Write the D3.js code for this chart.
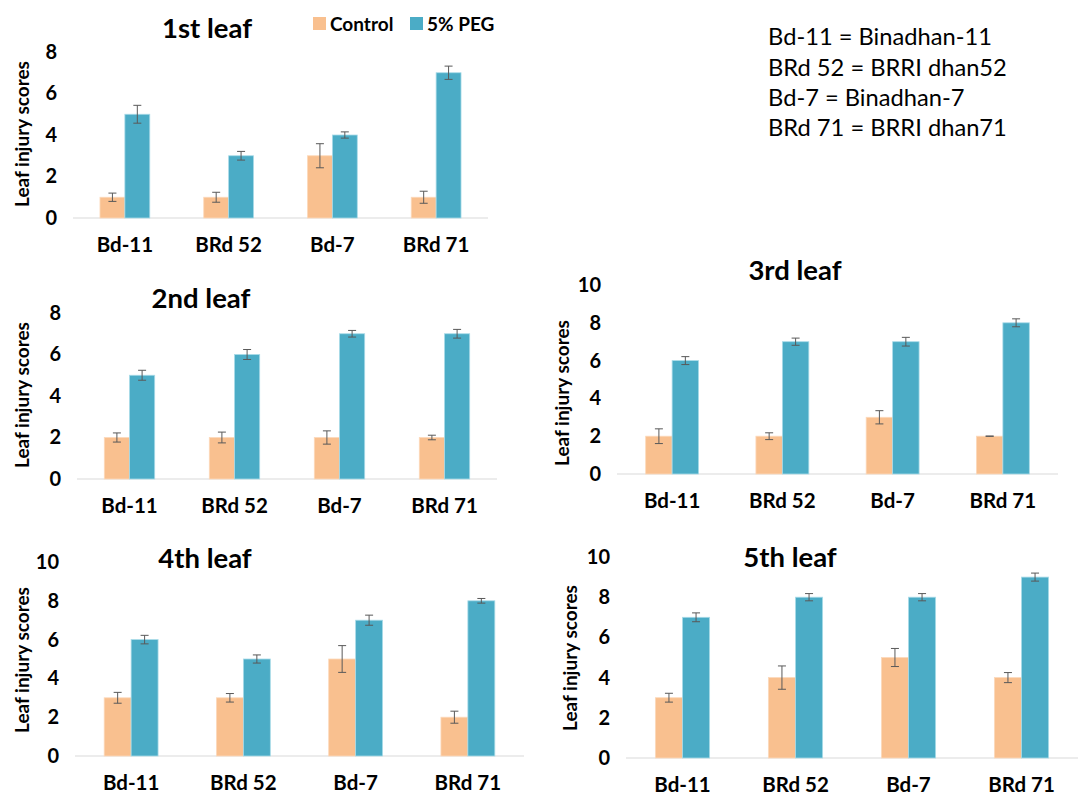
<!DOCTYPE html>
<html>
<head>
<meta charset="utf-8">
<script src="https://cdn.jsdelivr.net/npm/d3@7"></script>
<style>
  body { margin: 0; background: #fff; }
  svg text { font-family: Lato, "Open Sans", sans-serif; fill: #000; }
  .tick text { font-weight: bold; font-size: 20px; }
  .x-axis .tick text { font-size: 20.5px; }
  .panel-title { font-weight: bold; font-size: 27.5px; }
  .axis-label { font-weight: bold; font-size: 19px; }
  .legend-text { font-weight: bold; font-size: 19px; }
  .note { font-size: 23.7px; }
</style>
</head>
<body>
<div id="chart"></div>
<script>
const categories = ["Bd-11", "BRd 52", "Bd-7", "BRd 71"];
const seriesNames = ["Control", "5% PEG"];
const leafTitles = ["1st leaf", "2nd leaf", "3rd leaf", "4th leaf", "5th leaf"];
const yMaxes = [8, 8, 10, 10, 10];

const controlMeans = [
  [1, 1, 3, 1],
  [2, 2, 2, 2],
  [2, 2, 3, 2],
  [3, 3, 5, 2],
  [3, 4, 5, 4]
];
const controlErrors = [
  [0.2, 0.24, 0.58, 0.29],
  [0.22, 0.26, 0.32, 0.11],
  [0.39, 0.18, 0.35, 0.01],
  [0.28, 0.22, 0.69, 0.31],
  [0.22, 0.58, 0.45, 0.25]
];
const pegMeans = [
  [5, 3, 4, 7],
  [5, 6, 7, 7],
  [6, 7, 7, 8],
  [6, 5, 7, 8],
  [7, 8, 8, 9]
];
const pegErrors = [
  [0.43, 0.21, 0.15, 0.32],
  [0.24, 0.24, 0.16, 0.21],
  [0.21, 0.19, 0.23, 0.21],
  [0.22, 0.21, 0.26, 0.12],
  [0.22, 0.18, 0.18, 0.2]
];

const varietyNotes = [
  "Bd-11 = Binadhan-11",
  "BRd 52 = BRRI dhan52",
  "Bd-7 = Binadhan-7",
  "BRd 71 = BRRI dhan71"
];

const colors = { "Control": "#F9C08F", "5% PEG": "#4BACC6" };
const strokes = { "Control": "#fcd9bb", "5% PEG": "#a9dbe8" };

// plot boxes for each panel (left, right, top = y at max, bottom = baseline)
const panels = [
  { left: 73, right: 488, top: 52, bottom: 218, titleX: 207, titleY: 28, labelX: 22, labelY: 134 },
  { left: 77, right: 497, top: 313, bottom: 479, titleX: 201, titleY: 298, labelX: 22, labelY: 395 },
  { left: 617, right: 1058, top: 285, bottom: 474, titleX: 795, titleY: 270, labelX: 562, labelY: 393 },
  { left: 75, right: 524, top: 562, bottom: 756, titleX: 205, titleY: 558, labelX: 22, labelY: 660 },
  { left: 626, right: 1078, top: 557, bottom: 758, titleX: 790, titleY: 557, labelX: 570, labelY: 658 }
];

const width = 1085, height = 797;
const svg = d3.select("#chart").append("svg")
  .attr("width", width)
  .attr("height", height);

panels.forEach((p, i) => {
  const rows = categories.map((c, j) => ({
    category: c,
    values: [
      { series: seriesNames[0], value: controlMeans[i][j], err: controlErrors[i][j] },
      { series: seriesNames[1], value: pegMeans[i][j], err: pegErrors[i][j] }
    ]
  }));

  const x = d3.scaleBand()
    .domain(categories)
    .range([p.left, p.right])
    .paddingInner(0.52)
    .paddingOuter(0.26);

  const xSub = d3.scaleBand()
    .domain(seriesNames)
    .range([0, x.bandwidth()]);

  const y = d3.scaleLinear()
    .domain([0, yMaxes[i]])
    .range([p.bottom, p.top]);

  const g = svg.append("g").attr("class", "panel");

  // y axis (labels only)
  const yAxis = g.append("g")
    .attr("class", "y-axis")
    .attr("transform", `translate(${p.left},0)`)
    .call(d3.axisLeft(y).ticks(yMaxes[i] / 2).tickSize(0).tickPadding(16));
  yAxis.select(".domain").remove();

  // x axis
  const xAxis = g.append("g")
    .attr("class", "x-axis")
    .attr("transform", `translate(0,${p.bottom})`)
    .call(d3.axisBottom(x).tickSize(0).tickPadding(19));
  xAxis.select(".domain").remove();

  g.append("line")
    .attr("x1", p.left).attr("x2", p.right)
    .attr("y1", p.bottom).attr("y2", p.bottom)
    .attr("stroke", "#d9d9d9")
    .attr("stroke-width", 1);

  const groups = g.selectAll(".group")
    .data(rows)
    .join("g")
    .attr("class", "group")
    .attr("transform", (d) => `translate(${x(d.category)},0)`);

  groups.selectAll("rect")
    .data((d) => d.values)
    .join("rect")
    .attr("x", (d) => xSub(d.series))
    .attr("y", (d) => y(d.value))
    .attr("width", xSub.bandwidth())
    .attr("height", (d) => y(0) - y(d.value))
    .attr("fill", (d) => colors[d.series])
    .attr("stroke", (d) => strokes[d.series])
    .attr("stroke-width", 0.8);

  const errs = groups.selectAll(".err")
    .data((d) => d.values)
    .join("g")
    .attr("class", "err")
    .attr("stroke", "#595959")
    .attr("stroke-width", 1);

  errs.append("line")
    .attr("x1", (d) => xSub(d.series) + xSub.bandwidth() / 2)
    .attr("x2", (d) => xSub(d.series) + xSub.bandwidth() / 2)
    .attr("y1", (d) => y(d.value + d.err))
    .attr("y2", (d) => y(d.value - d.err));

  [1, -1].forEach((s) => {
    errs.append("line")
      .attr("x1", (d) => xSub(d.series) + xSub.bandwidth() / 2 - 4)
      .attr("x2", (d) => xSub(d.series) + xSub.bandwidth() / 2 + 4)
      .attr("y1", (d) => y(d.value + s * d.err))
      .attr("y2", (d) => y(d.value + s * d.err));
  });

  g.append("text")
    .attr("class", "panel-title")
    .attr("x", p.titleX)
    .attr("y", p.titleY)
    .attr("dy", "0.35em")
    .attr("text-anchor", "middle")
    .text(leafTitles[i]);

  g.append("text")
    .attr("class", "axis-label")
    .attr("transform", `translate(${p.labelX},${p.labelY}) rotate(-90)`)
    .attr("dy", "0.35em")
    .attr("text-anchor", "middle")
    .text("Leaf injury scores");
});

// legend (top panel)
const legend = svg.append("g").attr("class", "legend");
const legendX = [313, 410];
seriesNames.forEach((s, k) => {
  legend.append("rect")
    .attr("x", legendX[k]).attr("y", 17)
    .attr("width", 13).attr("height", 13)
    .attr("fill", colors[s]);
  legend.append("text")
    .attr("class", "legend-text")
    .attr("x", legendX[k] + 17)
    .attr("y", 24)
    .attr("dy", "0.35em")
    .text(s);
});

// variety abbreviations
svg.append("g").selectAll("text")
  .data(varietyNotes)
  .join("text")
  .attr("class", "note")
  .attr("x", 768)
  .attr("y", (d, k) => 37 + k * 30.3)
  .attr("dy", "0.35em")
  .text((d) => d);
</script>
</body>
</html>
